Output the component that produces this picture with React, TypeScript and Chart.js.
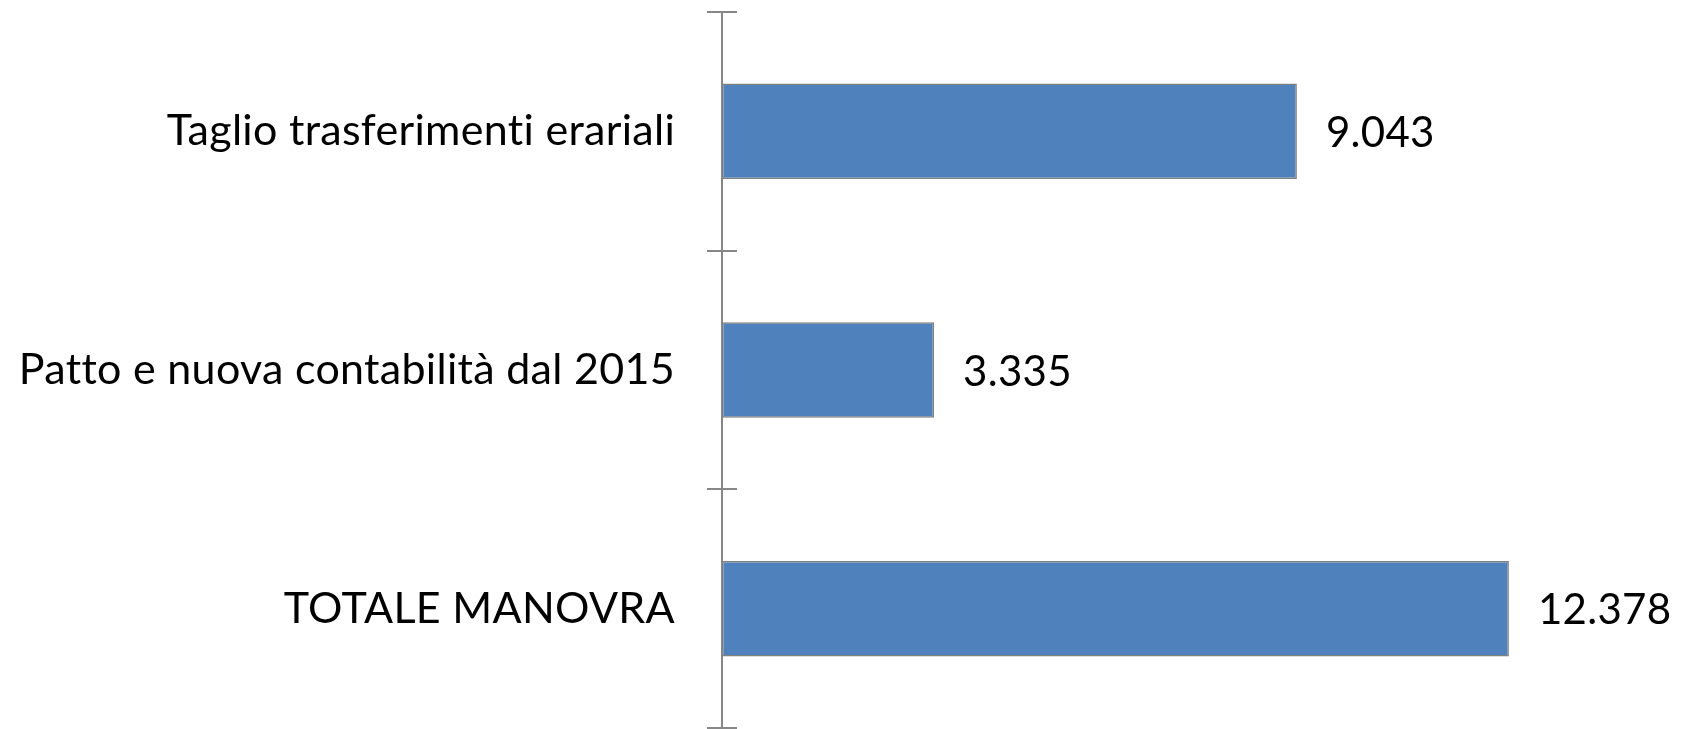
import React, { useEffect, useRef } from "react";
import { Chart, registerables } from "chart.js";

Chart.register(...registerables);

const categories: string[] = [
  "Taglio trasferimenti erariali",
  "Patto e nuova contabilità dal 2015",
  "TOTALE MANOVRA",
];
const values: number[] = [9.043, 3.335, 12.378];
const valueLabels: string[] = ["9.043", "3.335", "12.378"];

const FONT_FAMILY = "Lato, 'Open Sans', sans-serif";
const FONT_SIZE = 43;
const VALUE_FONT_SIZE = 42;
const AXIS_COLOR = "#878787";

const noLigaturesPlugin = {
  id: "noLigatures",
  beforeDraw(chart: any) {
    const ctx = chart.ctx as any;
    if ("letterSpacing" in ctx) ctx.letterSpacing = "0.3px";
    if ("fontVariantLigatures" in ctx) ctx.fontVariantLigatures = "none";
  },
};

const crossTicksPlugin = {
  id: "crossTicks",
  afterDraw(chart: any) {
    const scale = chart.scales.y;
    const ctx = chart.ctx;
    ctx.save();
    ctx.strokeStyle = AXIS_COLOR;
    ctx.lineWidth = 2;
    for (let i = 0; i <= categories.length; i++) {
      const y = Math.round(scale.getPixelForValue(i - 0.5));
      ctx.beginPath();
      ctx.moveTo(scale.right, y);
      ctx.lineTo(scale.right + 15, y);
      ctx.stroke();
    }
    ctx.restore();
  },
};

const valueLabelPlugin = {
  id: "valueLabels",
  afterDatasetsDraw(chart: any) {
    const ctx = chart.ctx;
    const meta = chart.getDatasetMeta(0);
    ctx.save();
    ctx.fillStyle = "#000000";
    ctx.font = `${VALUE_FONT_SIZE}px ${FONT_FAMILY}`;
    ctx.textAlign = "left";
    ctx.textBaseline = "middle";
    meta.data.forEach((bar: any, i: number) => {
      ctx.fillText(valueLabels[i], bar.x + 29, bar.y + 2);
    });
    ctx.restore();
  },
};

export default function App() {
  const canvasRef = useRef<HTMLCanvasElement | null>(null);

  useEffect(() => {
    if (!canvasRef.current) return;
    const chart = new Chart(canvasRef.current, {
      type: "bar",
      data: {
        labels: categories,
        datasets: [
          {
            data: values,
            backgroundColor: "#4f81bd",
            borderColor: "#808080",
            borderWidth: 1.5,
            borderSkipped: false,
            barPercentage: 0.4,
            categoryPercentage: 1,
          },
        ],
      },
      options: {
        indexAxis: "y",
        animation: false,
        responsive: false,
        layout: { padding: { top: 12, bottom: 1, left: 0, right: 71 } },
        plugins: {
          legend: { display: false },
          tooltip: { enabled: false },
          title: { display: false },
        },
        scales: {
          x: {
            display: false,
            min: 0,
            max: 14,
          },
          y: {
            afterFit: (scale: any) => {
              scale.width = 722;
              scale.paddingTop = 0;
              scale.paddingBottom = 0;
            },
            border: { display: true, color: AXIS_COLOR, width: 2 },
            grid: {
              display: true,
              drawOnChartArea: false,
              drawTicks: true,
              tickLength: 15,
              color: AXIS_COLOR,
              lineWidth: 2,
              offset: true,
            },
            ticks: {
              color: "#000000",
              padding: 32,
              font: { family: FONT_FAMILY, size: FONT_SIZE },
            },
          },
        },
      },
      plugins: [noLigaturesPlugin, crossTicksPlugin, valueLabelPlugin],
    });
    return () => chart.destroy();
  }, []);

  return (
    <canvas
      ref={canvasRef}
      width={1683}
      height={729}
      style={{ position: "absolute", left: 0, top: 0, display: "block" }}
    />
  );
}
